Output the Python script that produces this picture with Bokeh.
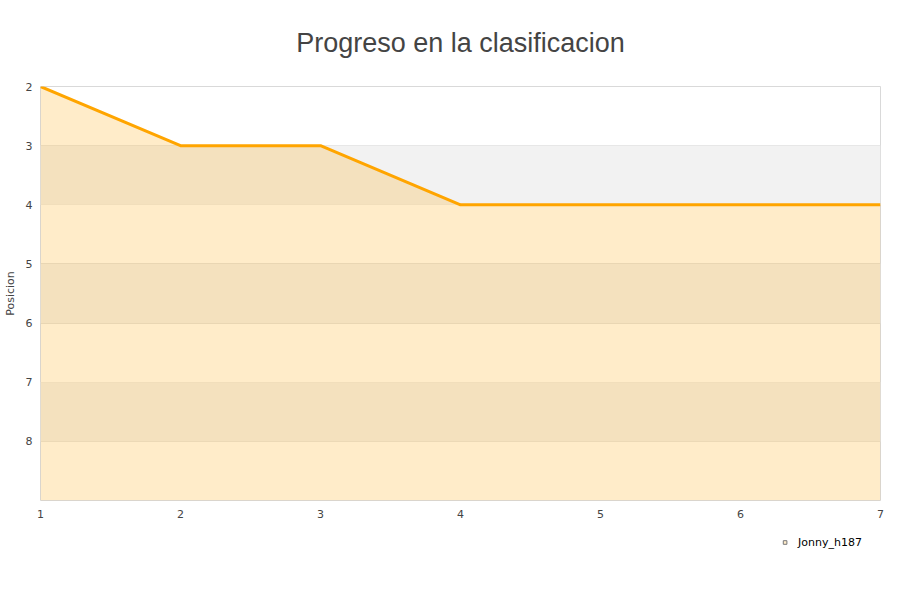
from bokeh.plotting import figure
from bokeh.layouts import column
from bokeh.models import Range1d, FixedTicker, BoxAnnotation, Legend, LegendItem, ColumnDataSource
from bokeh.embed import file_html
from bokeh.resources import INLINE

title = "Progreso en la clasificacion"
jornadas = [1, 2, 3, 4, 5, 6, 7]
posicion = [2, 3, 3, 4, 4, 4, 4]
series_name = "Jonny_h187"
y_ticks = [2, 3, 4, 5, 6, 7, 8]
y_min, y_max = 2, 9

src = ColumnDataSource(dict(x=jornadas, y=posicion, base=[y_max] * len(jornadas)))

p = figure(output_backend="svg", toolbar_location=None,
           x_range=Range1d(1, 7), y_range=Range1d(y_max, y_min),
           frame_width=840, frame_height=414,
           min_border_left=32, min_border_right=12, min_border_top=78, min_border_bottom=22)

p.title.text = title
p.title.align = "center"
p.title.vertical_align = "top"
p.title.text_font = "Liberation Sans"
p.title.text_font_size = "27px"
p.title.text_font_style = "normal"
p.title.text_color = "#444444"
p.title.standoff = 54

p.outline_line_color = "#d9d9d9"
p.outline_line_width = 1

for lo in (3, 5, 7):
    p.add_layout(BoxAnnotation(bottom=lo, top=lo + 1, fill_color="#f2f2f2", fill_alpha=1.0,
                               line_color=None, level="underlay"))

p.xgrid.grid_line_color = None
p.ygrid.grid_line_color = "#e3e3e3"
p.ygrid.ticker = FixedTicker(ticks=y_ticks)

for ax in (p.xaxis[0], p.yaxis[0]):
    ax.axis_line_color = None
    ax.major_tick_line_color = None
    ax.minor_tick_line_color = None
    ax.major_tick_in = 0
    ax.major_tick_out = 0
    ax.minor_tick_in = 0
    ax.minor_tick_out = 0
    ax.major_label_text_font = "DejaVu Sans"
    ax.major_label_text_font_size = "11px"
    ax.major_label_text_color = "#444444"

p.xaxis.ticker = FixedTicker(ticks=jornadas)
p.yaxis.ticker = FixedTicker(ticks=y_ticks)
p.xaxis.major_label_standoff = 9
p.yaxis.major_label_standoff = 8
p.yaxis.axis_label = "Posicion"
p.yaxis.axis_label_text_font = "DejaVu Sans"
p.yaxis.axis_label_text_font_size = "11px"
p.yaxis.axis_label_text_font_style = "normal"
p.yaxis.axis_label_text_color = "#444444"
p.yaxis.axis_label_standoff = 6

area = p.varea(x="x", y1="y", y2="base", source=src, fill_color="#FFA500", fill_alpha=0.21)
p.line(x="x", y="y", source=src, line_color="#FFA500", line_width=3)

# legend strip below the chart (its swatch renderer lies outside the strip's ranges)
lg = figure(width=884, height=40, output_backend="svg", toolbar_location=None,
            x_range=Range1d(-1, 0), y_range=Range1d(-1, 0),
            x_axis_type=None, y_axis_type=None, min_border=0)
lg.outline_line_color = None
lg.grid.grid_line_color = None
swatch = lg.scatter(x="x", y="y", source=src, marker="square", size=9,
                    fill_color="#FFECC9", line_color="#777777", line_width=1)
legend = Legend(items=[LegendItem(label=series_name, renderers=[swatch])],
                location="right", orientation="horizontal",
                background_fill_alpha=0, border_line_color=None,
                label_text_font="DejaVu Sans", label_text_font_size="11px",
                label_text_color="#000000",
                glyph_width=9, glyph_height=9, label_standoff=9, margin=10, padding=6)
lg.add_layout(legend, "center")

layout = column(p, lg, spacing=0)
open("out.html", "w").write(file_html(layout, INLINE))
